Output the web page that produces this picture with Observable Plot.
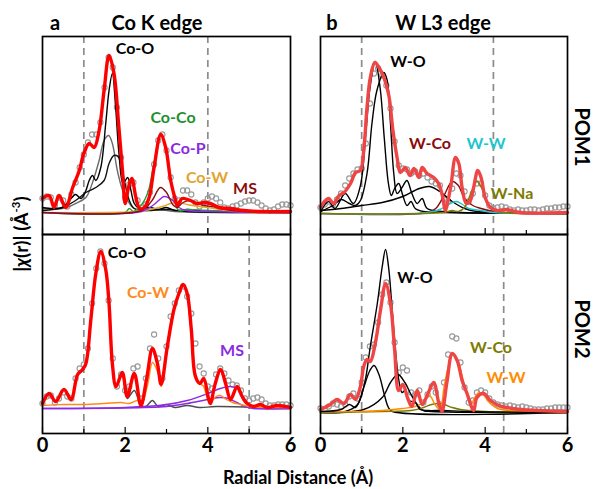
<!DOCTYPE html>
<html><head><meta charset="utf-8">
<script src="https://cdn.jsdelivr.net/npm/d3@7"></script>
<script src="https://cdn.jsdelivr.net/npm/@observablehq/plot@0.6"></script>
<style>
body{margin:0;background:#fff;}
#fig{position:relative;width:598px;height:489px;font-family:Lato,"Open Sans",sans-serif;font-weight:bold;overflow:hidden;}
.lab{position:absolute;transform:translate(-50%,-50%);white-space:nowrap;font-weight:bold;line-height:1;}
.p{position:absolute;}
</style></head><body><div id="fig"></div>
<script>
// ---------- shared grid of experimental points (Å) ----------
const rGrid = [0,0.1,0.2,0.3,0.4,0.5,0.6,0.7,0.8,0.9,1.0,1.1,1.2,1.3,1.4,1.5,1.6,1.7,1.8,1.9,2.0,2.1,2.2,2.3,2.4,2.5,2.6,2.7,2.8,2.9,3.0,3.1,3.2,3.3,3.4,3.5,3.6,3.7,3.8,3.9,4.0,4.1,4.2,4.3,4.4,4.5,4.6,4.7,4.8,4.9,5.0,5.1,5.2,5.3,5.4,5.5,5.6,5.7,5.8,5.9,6.0];
const xTicks = [0,2,4,6];

// ---------- (a) Co K edge, POM1 ----------
const tlExp = [14,16,15,7,15,12,6,18,30,45, 58,70,78,78,90,125,155,145,105,55, 15,28,30,12,5,8,20,48,72,78, 62,35,14,12,22,22,18,10,6,10, 14,16,14,10,5,4,6,7,9,11, 12,12,10,7,4,2,3,6,8,8,7];
const tlFit = [[0,14],[0.16,17],[0.28,5],[0.4,17],[0.56,5],[0.73,25],[0.89,42],[1.0,59],[1.13,69],[1.25,65],[1.37,82],[1.49,122],[1.61,157],[1.73,139],[1.84,89],[1.94,39],[2.0,9],[2.08,25],[2.16,34],[2.26,15],[2.35,4],[2.46,5],[2.58,15],[2.7,45],[2.86,78],[2.98,65],[3.1,32],[3.22,12],[3.26,7],[3.38,14],[3.58,12],[3.74,9],[3.9,10],[4.06,9],[4.27,5],[4.55,4],[4.87,2],[5.28,1],[6,1]];
const tlCoO1 = [[0,5],[0.25,4],[0.48,5],[0.65,12],[0.8,18],[0.93,14],[1.05,22],[1.13,32],[1.21,37],[1.29,32],[1.41,45],[1.53,89],[1.61,122],[1.69,139],[1.77,105],[1.85,59],[1.95,29],[2.06,35],[2.14,22],[2.22,9],[2.34,4],[2.6,5],[2.8,3],[3.0,5],[3.2,2],[3.5,3],[4.0,1],[6,0]];
const tlCoO2 = [[0,4],[0.48,4],[0.8,9],[1.05,15],[1.21,30],[1.37,52],[1.49,72],[1.6,77],[1.69,69],[1.81,42],[1.94,22],[2.06,12],[2.18,5],[2.42,2],[2.8,3],[3.2,1],[6,0]];
const tlCoO3 = [[0,2],[0.48,5],[0.8,12],[1.05,20],[1.29,25],[1.49,32],[1.61,49],[1.73,57],[1.85,55],[1.98,32],[2.1,12],[2.22,4],[2.5,2],[3.0,3],[3.5,1],[6,0]];
const tlCoCo = [[0,0],[2.0,0],[2.1,4],[2.2,1],[2.4,8],[2.55,20],[2.7,50],[2.87,78],[3.0,62],[3.12,30],[3.22,8],[3.3,2],[3.5,3],[4,2],[6,0]];
const tlCoP = [[0,0],[2.4,1],[2.7,8],[2.95,16],[3.15,12],[3.3,5],[3.5,2],[4,1],[6,0]];
const tlCoW = [[0,0],[2.3,1],[2.6,3],[2.9,6],[3.1,9],[3.3,10],[3.5,8],[3.8,6],[4.0,5],[4.3,3],[4.6,1],[6,0]];
const tlMS = [[0,0],[2.4,2],[2.65,12],[2.85,25],[3.0,20],[3.15,8],[3.25,5],[3.4,10],[3.55,12],[3.7,10],[3.9,7],[4.1,6],[4.3,4],[4.6,2],[5,1],[6,0]];

// ---------- (b) W L3 edge, POM1 ----------
const trExp = [6,9,12,9,14,20,28,35,40,44, 45,70,110,140,145,138,128,105,72,48, 45,44,40,42,38,40,36,32,30,28, 14,12,25,40,38,22,12,20,30,30, 18,8,5,6,7,6,4,3,4,3, 3,4,4,3,4,5,5,6,6,7,7];
const trFit = [[0,6],[0.12,13],[0.2,15],[0.32,10],[0.45,18],[0.57,21],[0.73,30],[0.85,41],[0.97,43],[1.05,63],[1.13,106],[1.21,136],[1.32,151],[1.42,146],[1.54,136],[1.66,118],[1.76,83],[1.86,56],[1.94,41],[2.06,46],[2.17,38],[2.27,45],[2.39,36],[2.47,46],[2.59,40],[2.75,36],[2.87,30],[2.97,16],[3.03,3],[3.16,26],[3.28,56],[3.36,50],[3.44,26],[3.54,10],[3.64,13],[3.72,26],[3.82,43],[3.9,36],[4.0,16],[4.13,6],[4.29,3],[4.53,4],[4.85,1],[6,1]];
const trWO1 = [[0,2],[0.2,12],[0.35,5],[0.6,20],[0.8,10],[0.97,28],[1.1,80],[1.2,125],[1.33,152],[1.45,125],[1.55,75],[1.65,30],[1.72,18],[1.8,25],[1.9,30],[2.0,18],[2.1,8],[2.2,12],[2.3,5],[2.5,2],[3.0,1],[6,0]];
const trWO2 = [[0,2],[0.3,8],[0.5,14],[0.7,10],[0.85,8],[0.97,13],[1.13,40],[1.25,90],[1.37,123],[1.54,141],[1.62,133],[1.7,90],[1.78,40],[1.86,20],[1.98,26],[2.1,33],[2.22,20],[2.35,10],[2.47,15],[2.59,5],[3.0,2],[6,0]];
const trWO3 = [[0,3],[0.5,5],[1.0,8],[1.5,11],[2.0,17],[2.4,25],[2.65,27],[2.9,22],[3.2,12],[3.5,5],[3.8,2],[4.2,1],[6,0]];
const trWCo = [[0,0],[2.6,1],[2.8,5],[3.0,18],[3.2,32],[3.35,28],[3.5,15],[3.7,8],[3.9,5],[4.2,2],[4.6,1],[6,0]];
const trWW = [[0,0],[2.6,1],[2.9,4],[3.1,9],[3.3,12],[3.45,9],[3.6,5],[3.9,3],[4.2,1],[6,0]];
const trWNa = [[0,0],[3.0,1],[3.2,3],[3.35,2],[3.5,6],[3.65,20],[3.8,32],[3.92,25],[4.05,10],[4.2,3],[4.4,1],[6,0]];

// ---------- (a) Co K edge, POM2 ----------
const blExp = [5,12,13,6,10,16,12,10,30,40, 44,60,105,140,157,145,108,50,22,34, 18,22,40,42,10,30,60,74,50,30, 62,92,105,118,122,112,95,65,42,35, 22,20,34,40,35,28,24,23,18,10, 8,10,11,9,5,3,3,4,4,4,3];
const blFit = [[0,5],[0.16,15],[0.32,7],[0.52,19],[0.69,9],[0.85,34],[0.97,39],[1.05,45],[1.17,89],[1.29,135],[1.41,157],[1.53,139],[1.61,105],[1.69,45],[1.78,22],[1.93,36],[2.05,12],[2.22,35],[2.38,3],[2.52,30],[2.66,60],[2.78,45],[2.87,24],[3.02,62],[3.18,99],[3.3,115],[3.4,124],[3.5,115],[3.6,79],[3.7,32],[3.81,25],[3.9,30],[4.02,9],[4.06,5],[4.18,25],[4.31,39],[4.43,25],[4.55,9],[4.71,22],[4.83,12],[4.95,5],[5.11,2],[5.27,4],[5.43,1],[5.68,3],[6,1]];
const blCoO = [[0,5],[0.16,15],[0.32,7],[0.52,19],[0.69,9],[0.85,33],[0.97,38],[1.05,44],[1.17,88],[1.29,134],[1.41,156],[1.53,138],[1.61,104],[1.69,45],[1.78,22],[1.93,34],[2.05,10],[2.22,18],[2.38,3],[2.5,2],[2.66,8],[2.8,2],[3.0,4],[3.2,1],[3.5,3],[3.8,1],[4.2,2],[6,0]];
const blCoW = [[0,3],[0.5,4],[1.0,4],[1.5,5],[1.9,6],[2.1,5],[2.3,8],[2.4,5],[2.55,25],[2.66,46],[2.8,35],[2.87,22],[3.0,60],[3.18,98],[3.3,114],[3.4,123],[3.5,115],[3.6,80],[3.7,35],[3.81,25],[3.9,22],[4.0,10],[4.1,8],[4.2,12],[4.3,13],[4.45,9],[4.6,6],[4.8,4],[5.0,2],[6,1]];
const blMS1 = [[0,0],[2.0,1],[3.0,4],[3.5,8],[4.0,15],[4.3,20],[4.55,22],[4.7,20],[4.85,12],[5.0,4],[5.2,1],[6,0]];
const blMS2 = [[0,0],[3.0,2],[3.5,5],[4.0,9],[4.3,11],[4.5,10],[4.7,6],[4.9,2],[5.1,0],[6,0]];

// ---------- (b) W L3 edge, POM2 ----------
const brExp = [4,3,6,9,8,6,8,16,19,14, 30,55,66,68,90,118,130,110,70,40, 45,42,20,18,22,10,18,26,20,8, 30,58,76,74,50,25,10,12,20,22, 20,14,10,8,7,6,7,6,5,6, 5,4,3,3,3,4,4,5,5,5,5];
const brFit = [[0,3],[0.24,8],[0.4,13],[0.57,9],[0.73,18],[0.85,13],[0.97,26],[1.05,46],[1.13,53],[1.21,51],[1.33,69],[1.46,103],[1.58,129],[1.7,109],[1.8,63],[1.9,22],[2.0,28],[2.12,14],[2.22,6],[2.35,22],[2.47,8],[2.6,18],[2.75,30],[2.87,10],[2.95,1],[3.07,30],[3.2,59],[3.32,52],[3.44,32],[3.56,19],[3.72,2],[3.8,15],[3.96,19],[4.13,12],[4.33,7],[4.53,5],[4.85,3],[6,1]];
const brWO1 = [[0,1],[0.5,3],[0.7,8],[0.85,5],[1.0,18],[1.1,35],[1.21,66],[1.38,109],[1.5,146],[1.58,163],[1.66,143],[1.74,103],[1.82,63],[1.9,33],[1.98,20],[2.06,22],[2.15,12],[2.3,10],[2.42,3],[2.6,2],[3.0,2],[3.5,1],[6,0]];
const brWO2 = [[0,0],[0.6,1],[0.9,8],[1.05,25],[1.2,42],[1.3,47],[1.42,38],[1.55,18],[1.65,5],[1.75,1],[6,0]];
const brWO3 = [[0,0],[1.05,3],[1.5,15],[1.7,30],[1.88,38],[2.05,30],[2.2,18],[2.35,8],[2.5,2],[2.7,1],[6,0]];
const brWW = [[0,1],[1.0,1],[1.5,2],[2.0,4],[2.3,6],[2.5,10],[2.65,17],[2.78,8],[2.9,3],[3.0,25],[3.1,45],[3.22,58],[3.32,54],[3.45,35],[3.55,18],[3.65,8],[3.75,15],[3.85,20],[3.95,18],[4.1,10],[4.3,4],[4.6,2],[5,1],[6,0]];
const brWCo = [[0,0],[1.5,1],[2.2,2],[2.5,5],[2.7,8],[2.85,9],[3.0,8],[3.2,5],[3.4,3],[3.6,2],[4.0,1],[6,0]];

// ---------- drawing ----------
const fig = document.getElementById("fig");
const FONT = "Lato, 'Open Sans', sans-serif";

function panel(o) {
  const expData = rGrid.map((r, i) => ({r, v: o.exp[i]}));
  const compData = o.comps.flatMap((c, k) => c.pts.map(([r, v]) => ({r, v, key: k, color: c.color})));
  const fitData = o.fit.map(([r, v]) => ({r, v}));
  const H = o.axis ? 231 : 202;
  const chart = Plot.plot({
    width: o.width, height: H,
    marginLeft: 2, marginRight: 2, marginTop: 2, marginBottom: o.axis ? 30 : 2,
    x: {domain: [0, 6], axis: o.axis ? undefined : null},
    y: {domain: o.domain, axis: null},
    color: {type: "identity"},
    style: {background: "transparent", overflow: "visible", fontFamily: FONT, fontSize: "20px", fontWeight: "bold", color: "black"},
    marks: [
      Plot.ruleX(o.dashes, {stroke: "#8c8c8c", strokeWidth: 1.7, strokeDasharray: "7,5"}),
      Plot.dot(expData, {x: "r", y: "v", r: 2.6, stroke: "#999999", strokeWidth: 1.1, fill: "none"}),
      Plot.line(compData, {x: "r", y: "v", z: "key", stroke: "color", strokeWidth: 1.4, curve: "catmull-rom"}),
      Plot.line(fitData, {x: "r", y: "v", stroke: o.fitColor, strokeWidth: 3.4, curve: "catmull-rom"}),
      Plot.ruleX([0, 1, 2, 3, 4, 5, 6], {y1: o.domain[0], y2: d => o.domain[0] + (d % 2 === 0 ? 6 : 4), stroke: "black", strokeWidth: 1.2}),
      Plot.frame({stroke: "black", strokeWidth: 1.7}),
      o.axis ? Plot.axisX({ticks: xTicks, tickFormat: d => String(d), tickSize: 0, tickPadding: 4, label: null, fontSize: 20, fontWeight: "bold"}) : null
    ]
  });
  chart.classList.add("p");
  chart.style.left = o.left + "px";
  chart.style.top = o.top + "px";
  fig.appendChild(chart);
}

panel({exp: tlExp, fit: tlFit, fitColor: "#ff0000", dashes: [1, 4], domain: [-22, 176], left: 40, top: 34, width: 252, axis: false,
  comps: [{pts: tlCoO2, color: "#6b6b6b"}, {pts: tlCoO3, color: "#111"}, {pts: tlCoO1, color: "#000"},
          {pts: tlCoCo, color: "#2a9d3f"}, {pts: tlCoW, color: "#e3a628"}, {pts: tlCoP, color: "#8f2be6"}, {pts: tlMS, color: "#8b1010"}]});
panel({exp: trExp, fit: trFit, fitColor: "#f04545", dashes: [1, 4.2], domain: [-21, 177], left: 318, top: 34, width: 251, axis: false,
  comps: [{pts: trWO3, color: "#000"}, {pts: trWO1, color: "#000"}, {pts: trWO2, color: "#000"},
          {pts: trWCo, color: "#8b0a0a"}, {pts: trWW, color: "#1fc4cc"}, {pts: trWNa, color: "#7d7a00"}]});
panel({exp: blExp, fit: blFit, fitColor: "#ff0000", dashes: [1, 5], domain: [-25, 174], left: 40, top: 232, width: 252, axis: true,
  comps: [{pts: blCoO, color: "#4d4d4d"}, {pts: blMS1, color: "#8a2be2"}, {pts: blMS2, color: "#8a2be2"}, {pts: blCoW, color: "#ff8a1c"}]});
panel({exp: brExp, fit: brFit, fitColor: "#f04545", dashes: [1, 4.45], domain: [-21, 178], left: 318, top: 232, width: 251, axis: true,
  comps: [{pts: brWO2, color: "#000"}, {pts: brWO3, color: "#000"}, {pts: brWCo, color: "#7d7a00"}, {pts: brWW, color: "#ff8c00"}, {pts: brWO1, color: "#000"}]});

// ---------- text ----------
const labels = [
  ["a", 55, 22, 20, "#000"], ["Co K edge", 157, 22, 20, "#000"],
  ["b", 332, 22, 20, "#000"], ["W L3 edge", 443, 22, 20, "#000"],
  ["Co-O", 135, 48, 16, "#000"], ["Co-Co", 173, 117, 16, "#1f8f2f"], ["Co-P", 188, 148, 16, "#8a2be2"],
  ["Co-W", 207, 177, 16, "#e0a530"], ["MS", 245, 188, 16, "#8b1010"],
  ["W-O", 408, 61, 16, "#000"], ["W-Co", 430, 143, 16, "#8b0a0a"], ["W-W", 486, 143, 16, "#1fc4cc"], ["W-Na", 512, 193, 16, "#7d7a00"],
  ["Co-O", 127, 252, 16, "#000"], ["Co-W", 148, 292, 16, "#ff8a1c"], ["MS", 232, 350, 16, "#8a2be2"],
  ["W-O", 415, 277, 16, "#000"], ["W-Co", 491, 347, 16, "#7d7a00"], ["W-W", 506, 377, 16, "#ff8c00"],
  ["Radial Distance (Å)", 298, 477, 18, "#000"]
];
for (const [t, x, y, s, c] of labels) {
  const d = document.createElement("div");
  d.className = "lab";
  d.textContent = t;
  Object.assign(d.style, {left: x + "px", top: y + "px", fontSize: s + "px", color: c});
  fig.appendChild(d);
}
function rotLabel(html, x, y, deg, size) {
  const d = document.createElement("div");
  d.className = "lab";
  d.innerHTML = html;
  Object.assign(d.style, {left: x + "px", top: y + "px", fontSize: size + "px", transform: `translate(-50%,-50%) rotate(${deg}deg)`});
  fig.appendChild(d);
}
rotLabel("|<i>χ</i>(r)| (Å<sup style='font-size:0.6em'>-3</sup>)", 20, 234, -90, 19);
rotLabel("POM1", 583, 137, 90, 20);
rotLabel("POM2", 583, 329, 90, 20);
</script></body></html>
